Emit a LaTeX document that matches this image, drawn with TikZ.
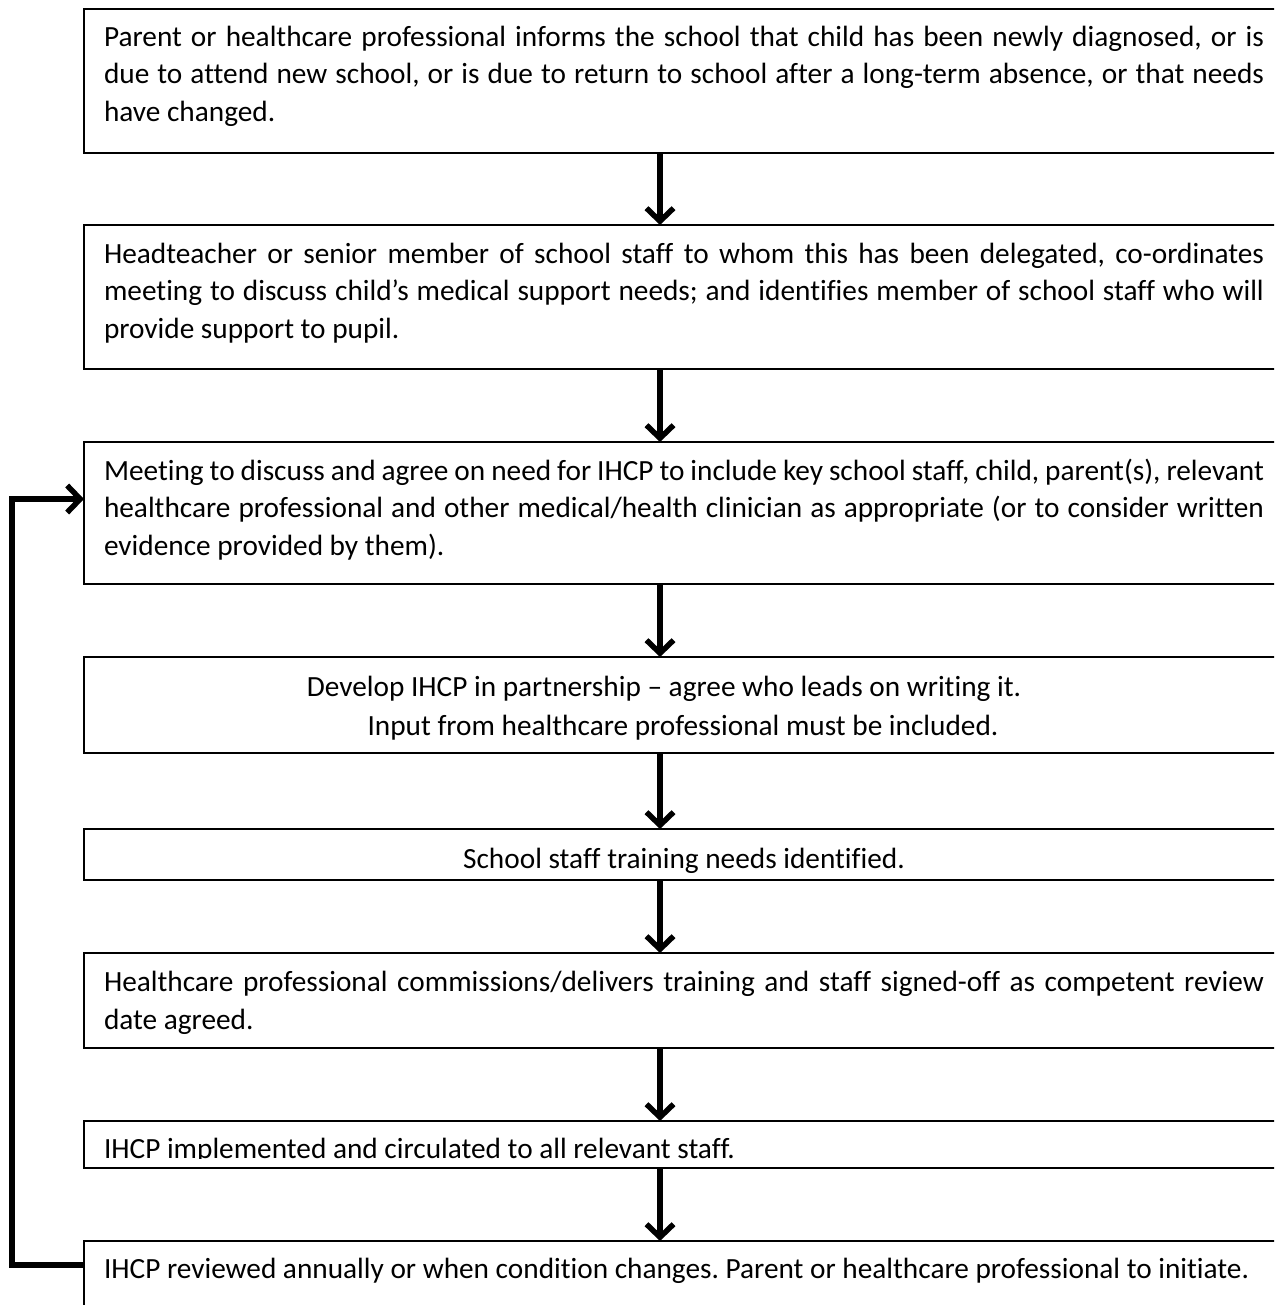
\documentclass[tikz,border=0pt]{standalone}
\usepackage{fontspec}
\setmainfont{Carlito}
\usetikzlibrary{arrows.meta}
\font\cfont="Carlito:-liga;-clig;-calt;-dlig;-rlig" at 29.3pt
\frenchspacing
\begin{document}
\begin{tikzpicture}[x=1pt,y=-1pt,
  boxst/.style={draw=black,line width=2pt,rectangle,anchor=north west,minimum width=1240pt,inner sep=0pt,outer sep=0pt},
  txt/.style={font={\cfont\baselineskip=37.5pt\frenchspacing},inner sep=0pt,outer sep=0pt},
  para/.style={txt,anchor=base west,text width=1160pt,align=justify},
  cline/.style={txt,anchor=base},
  lline/.style={txt,anchor=base west},
  arr/.style={line width=5.5pt,-{Straight Barb[length=13pt,width=27pt]}}]
\clip (0,0) rectangle (1274,1305);
\fill[white] (0,0) rectangle (1274,1305);
\hyphenpenalty=10000 \exhyphenpenalty=10000 \hbadness=10000
% boxes
\node[boxst,minimum height=144pt] (b1) at (84,9) {};
\node[boxst,minimum height=144pt] (b2) at (84,225) {};
\node[boxst,minimum height=142pt] (b3) at (84,442) {};
\node[boxst,minimum height=96pt] (b4) at (84,657) {};
\node[boxst,minimum height=51pt] (b5) at (84,829) {};
\node[boxst,minimum height=95pt] (b6) at (84,953) {};
\node[boxst,minimum height=47pt] (b7) at (84,1121) {};
\node[boxst,minimum height=100pt] (b8) at (84,1241) {};
% texts
\node[para] (t1) at (104,46.5) {Parent or healthcare professional informs the school that child has been newly diagnosed, or is\linebreak due to attend new school, or is due to return to school after a long-term absence, or that needs\linebreak have changed.};
\node[para] (t2) at (104,263.5) {Headteacher or senior member of school staff to whom this has been delegated, co-ordinates\linebreak meeting to discuss child’s medical support needs; and identifies member of school staff who will\linebreak provide support to pupil.};
\node[para] (t3) at (104,480) {Meeting to discuss and agree on need for IHCP to include key school staff, child, parent(s), relevant\linebreak healthcare professional and other medical/health clinician as appropriate (or to consider written\linebreak evidence provided by them).};
\node[cline] (t4a) at (664,696) {Develop IHCP in partnership – agree who leads on writing it.};
\node[cline] (t4b) at (683,735) {Input from healthcare professional must be included.};
\node[cline] (t5) at (684,868) {School staff training needs identified.};
\node[para] (t6) at (104,991.5) {Healthcare professional commissions/delivers training and staff signed-off as competent review\linebreak date agreed.};
\begin{scope}
\clip (0,1100) rectangle (1274,1158.5);
\node[lline] (t7) at (104,1158) {IHCP implemented and circulated to all relevant staff.};
\end{scope}
\node[lline] (t8) at (104,1278) {IHCP reviewed annually or when condition changes. Parent or healthcare professional to initiate.};
% arrows
\coordinate (ax) at (660,0);
\draw[arr] (b1.south -| ax) -- (b2.north -| ax);
\draw[arr] (b2.south -| ax) -- (b3.north -| ax);
\draw[arr] (b3.south -| ax) -- (b4.north -| ax);
\draw[arr] (b4.south -| ax) -- (b5.north -| ax);
\draw[arr] (b5.south -| ax) -- (b6.north -| ax);
\draw[arr] (b6.south -| ax) -- (b7.north -| ax);
\draw[arr] (b7.south -| ax) -- (b8.north -| ax);
% feedback loop
\coordinate (fy1) at (0,1265);
\coordinate (fy2) at (0,499);
\coordinate (fx) at (12,0);
\draw[arr] (b8.west |- fy1) -- (fx |- fy1) -- (fx |- fy2) -- (b3.west |- fy2);
\end{tikzpicture}
\end{document}
